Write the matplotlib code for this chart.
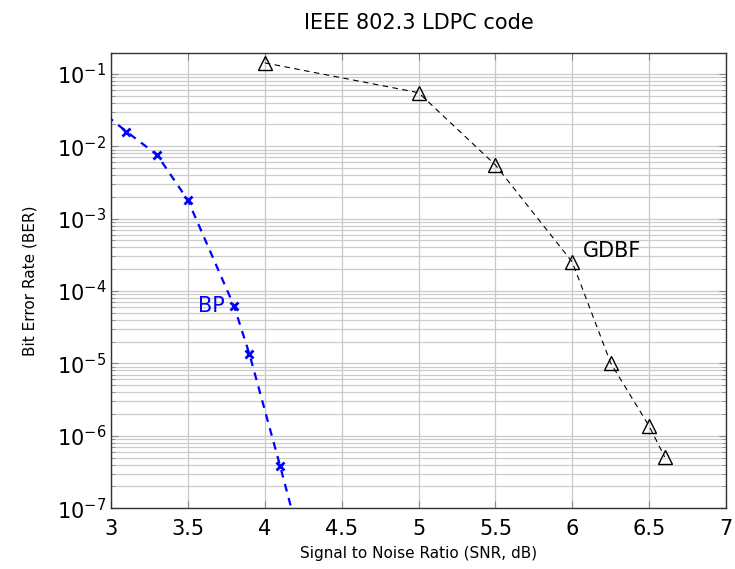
import matplotlib
matplotlib.use("Agg")
import matplotlib.pyplot as plt
from matplotlib.ticker import FixedLocator, NullFormatter, LogFormatterSciNotation

bp_snr = [2.9, 3.1, 3.3, 3.5, 3.8, 3.9, 4.1, 4.2]
bp_ber = [3.5e-2, 1.6e-2, 7.6e-3, 1.8e-3, 6.2e-5, 1.35e-5, 3.8e-7, 6e-8]
gdbf_snr = [4.0, 5.0, 5.5, 6.0, 6.25, 6.5, 6.6]
gdbf_ber = [0.142, 5.5e-2, 5.5e-3, 2.5e-4, 1.0e-5, 1.35e-6, 5.1e-7]
x_ticks = [3, 3.5, 4, 4.5, 5, 5.5, 6, 6.5, 7]
x_labels = ["3", "3.5", "4", "4.5", "5", "5.5", "6", "6.5", "7"]
y_decades = [-7, -6, -5, -4, -3, -2, -1]

fig = plt.figure(figsize=(7.35, 5.69), dpi=100)
ax = fig.add_axes([0.151, 0.107, 0.837, 0.800])

ax.set_yscale("log")
ax.set_xlim(3, 7)
ax.set_ylim(1e-7, 0.195)

ax.plot(bp_snr, bp_ber, color="blue", linestyle=(0, (3.5, 3)), linewidth=1.6,
        marker="x", markersize=6, markeredgewidth=2, zorder=3)
ax.plot(gdbf_snr, gdbf_ber, color="black", linestyle=(0, (5, 4)), linewidth=0.8,
        marker="^", markersize=10, markerfacecolor="none", markeredgewidth=1.0, zorder=3)

ax.text(3.74, 6.2e-5, "BP", color="blue", fontsize=15, ha="right", va="center")
ax.text(6.07, 3.6e-4, "GDBF", color="black", fontsize=15, ha="left", va="center")

ax.set_xticks(x_ticks)
ax.set_xticklabels(x_labels)
major = [10.0 ** d for d in y_decades]
minor = [m * 10.0 ** d for d in y_decades for m in range(2, 10) if m * 10.0 ** d <= 0.195]
ax.yaxis.set_major_locator(FixedLocator(major))
ax.yaxis.set_major_formatter(LogFormatterSciNotation())
ax.yaxis.set_minor_locator(FixedLocator(minor))
ax.yaxis.set_minor_formatter(NullFormatter())

ax.grid(True, which="major", color="#c8c8c8", linewidth=0.9)
ax.grid(True, which="minor", axis="y", color="#cccccc", linewidth=0.9)
ax.set_axisbelow(True)

ax.tick_params(which="both", direction="in", top=True, right=True, labelsize=15)
ax.tick_params(which="major", length=5, color="#888888")
ax.tick_params(which="minor", length=3, color="#888888")
ax.tick_params(axis="x", pad=8)

for s in ax.spines.values():
    s.set_linewidth(1.0)
    s.set_color("#333333")

ax.set_xlabel("Signal to Noise Ratio (SNR, dB)", fontsize=11, labelpad=5)
ax.set_ylabel("Bit Error Rate (BER)", fontsize=11, labelpad=14)
ax.set_title("IEEE 802.3 LDPC code", fontsize=15, pad=17)

fig.savefig("out.png", dpi=100)
